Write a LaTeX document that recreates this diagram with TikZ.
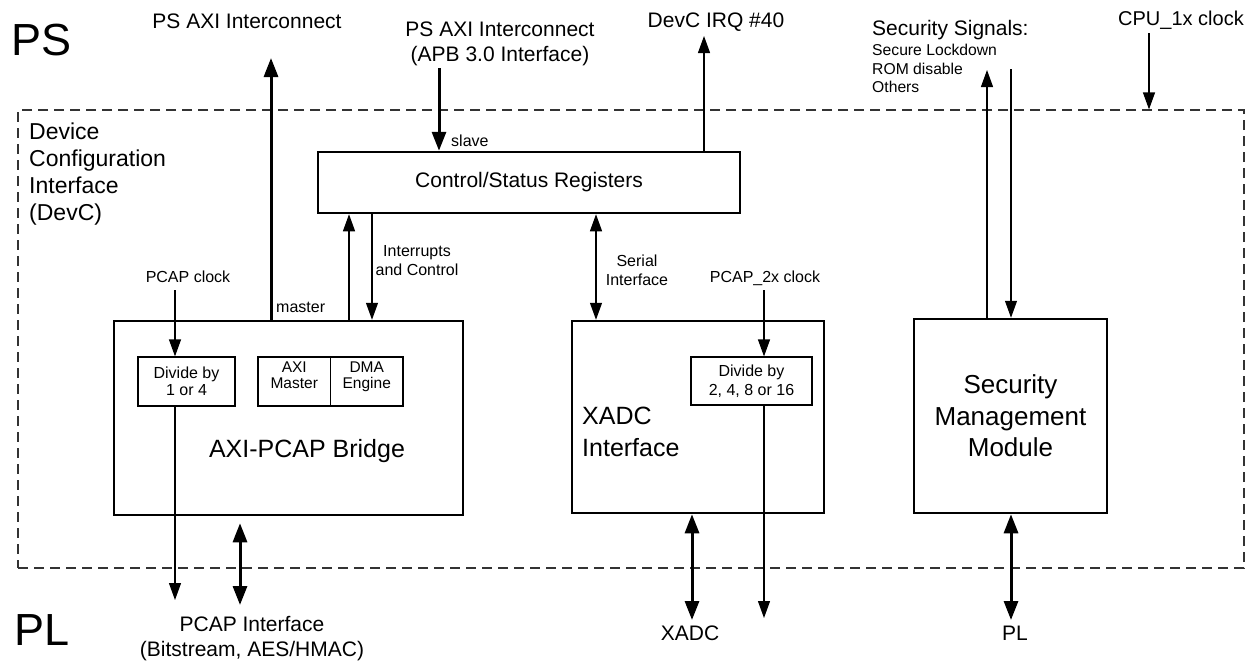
\documentclass[tikz,border=0pt]{standalone}
\usepackage{fontspec}
\setmainfont{Liberation Sans}
\usetikzlibrary{arrows.meta}
\begin{document}
\begin{tikzpicture}[x=1pt,y=-1pt,
  bigbox/.style={draw,line width=2.5pt,inner sep=0pt,align=center},
  smallbox/.style={draw,line width=1.2pt,inner sep=0pt,align=center,font=\fontsize{16}{17}\selectfont},
  lbl/.style={inner sep=0pt,font=\fontsize{21}{25}\selectfont},
  slbl/.style={inner sep=0pt,font=\fontsize{16}{19}\selectfont},
  thn/.style={line width=1.2pt,-{Triangle[length=17pt,width=12pt]}},
  thnboth/.style={line width=1.2pt,{Triangle[length=17pt,width=12pt]}-{Triangle[length=17pt,width=12pt]}},
  thk/.style={line width=3pt,-{Triangle[length=19pt,width=14pt]}},
  thkboth/.style={line width=3pt,{Triangle[length=19pt,width=14pt]}-{Triangle[length=19pt,width=14pt]}},
  dashbox/.style={draw=black!80,line width=1.2pt,dash pattern=on 10pt off 6pt,inner sep=0pt}
]
\useasboundingbox (0,0) rectangle (1256,665);

% outer dashed region
\node[dashbox,minimum width=1226pt,minimum height=458pt] (devc) at (631,339) {};

% main boxes
\node[bigbox,minimum width=422pt,minimum height=61pt,font=\fontsize{21}{25}\selectfont] (csr) at (529,182.5) {Control/Status Registers};
\node[bigbox,minimum width=349pt,minimum height=194pt] (axi) at (288.5,418) {};
\node[bigbox,minimum width=252pt,minimum height=192pt] (xadc) at (698,417) {};
\node[bigbox,minimum width=193pt,minimum height=194pt,font=\fontsize{26}{31.5}\selectfont] (smm) at (1010.5,416) {Security\\Management\\Module};

% inner boxes
\node[smallbox,minimum width=97pt,minimum height=49pt] (div1) at (186.5,381.5) {Divide by\\1 or 4};
\node[smallbox,minimum width=72.5pt,minimum height=49pt,text depth=12pt,font=\fontsize{15.5}{16}\selectfont] (axim) at (294.25,381.5) {AXI\\Master};
\node[smallbox,minimum width=72.5pt,minimum height=49pt,text depth=12pt,font=\fontsize{15.5}{16}\selectfont] (dma) at (366.75,381.5) {DMA\\Engine};
\node[smallbox,minimum width=121pt,minimum height=48pt,font=\fontsize{16}{19}\selectfont] (div2) at (751.5,381) {Divide by\\2, 4, 8 or 16};

% box texts
\node[inner sep=0pt,anchor=base,font=\fontsize{25}{30}\selectfont] (axitxt) at (307,457) {AXI-PCAP Bridge};
\node[inner sep=0pt,anchor=west,align=left,font=\fontsize{25}{32}\selectfont] (xadctxt) at (582,432) {XADC\\Interface};

% region labels
\node[inner sep=0pt,anchor=base west,font=\fontsize{45}{54}\selectfont] (ps) at (11,55) {PS};
\node[inner sep=0pt,anchor=base west,font=\fontsize{45}{54}\selectfont] (pl) at (14,645) {PL};
\node[inner sep=0pt,anchor=west,align=left,font=\fontsize{23}{26.7}\selectfont] (devclbl) at (29,174) {Device\\Configuration\\Interface\\(DevC)};

% top labels
\node[lbl,anchor=base] (axilbl) at (247,28) {PS AXI Interconnect};
\node[lbl,align=center] (apblbl) at (500,44) {PS AXI Interconnect\\(APB 3.0 Interface)};
\node[lbl,anchor=base] (irqlbl) at (716,27) {DevC IRQ \#40};
\node[lbl,anchor=base west] (seclbl) at (872,35) {Security Signals:};
\node[inner sep=0pt,anchor=west,align=left,font=\fontsize{15.7}{18.5}\selectfont] (seclist) at (872,68.7) {Secure Lockdown\\ROM disable\\Others};
\node[inner sep=0pt,anchor=base,font=\fontsize{20}{24}\selectfont] (cpulbl) at (1181,25) {CPU\_1x clock};

% small labels
\node[slbl,anchor=base west] (slave) at (451,146) {slave};
\node[slbl,anchor=base west] (master) at (276,312) {master};
\node[slbl,align=center] (intlbl) at (417,261) {Interrupts\\and Control};
\node[slbl,align=center] (serlbl) at (637,270) {Serial\\Interface};
\node[slbl,anchor=base] (pclklbl) at (188,282) {PCAP clock};
\node[slbl,anchor=base] (p2clklbl) at (765,282) {PCAP\_2x clock};

% bottom labels
\node[lbl,align=center] (pcaplbl) at (252,639) {PCAP Interface\\(Bitstream, AES/HMAC)};
\node[lbl,anchor=base] (xadclbl) at (690,640) {XADC};
\node[lbl,anchor=base] (pllbl) at (1015,640) {PL};

% helper coordinates
\coordinate (axiout) at (271,58);
\coordinate (apbin) at (439,68);
\coordinate (irq) at (704,36);
\coordinate (intup) at (349,0);
\coordinate (intdn) at (372,0);
\coordinate (ser) at (596,0);
\coordinate (pclk) at (175,290);
\coordinate (pout) at (175,600);
\coordinate (pcapio) at (240,605);
\coordinate (p2clk) at (764,290);
\coordinate (xout) at (764,618);
\coordinate (xio) at (692,620);
\coordinate (secup) at (987,70);
\coordinate (secdn) at (1011,69);
\coordinate (plio) at (1011,620);
\coordinate (cpuclk) at (1149,33);

% connectors
\draw[thk] (axiout |- axi.north) -- (axiout);
\draw[thk] (apbin) -- (apbin |- csr.north);
\draw[thn] (irq |- csr.north) -- (irq);
\draw[thn] (intup |- axi.north) -- (intup |- csr.south);
\draw[thn] (intdn |- csr.south) -- (intdn |- axi.north);
\draw[thnboth] (ser |- csr.south) -- (ser |- xadc.north);
\draw[thn] (pclk) -- (pclk |- div1.north);
\draw[thn] (pout |- div1.south) -- (pout);
\draw[thkboth,shorten <=7pt] (pcapio |- axi.south) -- (pcapio);
\draw[thn] (p2clk) -- (p2clk |- div2.north);
\draw[thn] (xout |- div2.south) -- (xout);
\draw[thkboth] (xio |- xadc.south) -- (xio);
\draw[thn] (secup |- smm.north) -- (secup);
\draw[thn] (secdn) -- (secdn |- smm.north);
\draw[thkboth] (plio |- smm.south) -- (plio);
\draw[thn] (cpuclk) -- (cpuclk |- devc.north);
\end{tikzpicture}
\end{document}
